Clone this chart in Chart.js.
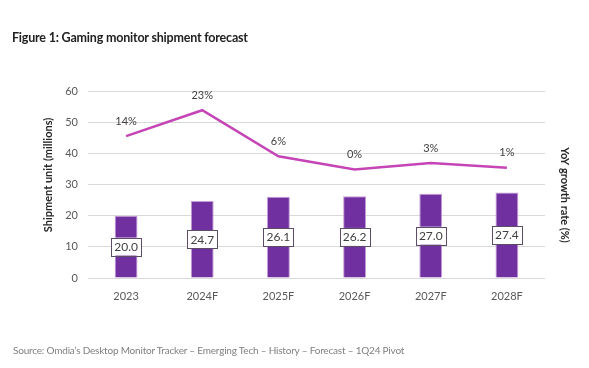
<!DOCTYPE html>
<html>
<head>
<meta charset="utf-8">
<script src="https://cdn.jsdelivr.net/npm/chart.js@4.4.1/dist/chart.umd.min.js"></script>
<style>
  html, body { margin: 0; padding: 0; background: #ffffff; }
  body { width: 589px; height: 368px; position: relative; overflow: hidden; font-family: Lato, "Open Sans", sans-serif; }
  #title { position: absolute; left: 12px; top: 30px; font-size: 12.5px; font-weight: bold; color: #222; letter-spacing: -0.2px; }
  #source { position: absolute; left: 13px; top: 344px; font-size: 10px; color: #808080; letter-spacing: -0.2px; }
  #wrap { position: absolute; left: 0; top: 0; width: 589px; height: 368px; }
</style>
</head>
<body>
<div id="wrap"><canvas id="c" width="589" height="368"></canvas></div>
<div id="title">Figure 1: Gaming monitor shipment forecast</div>
<div id="source">Source: Omdia’s Desktop Monitor Tracker – Emerging Tech – History – Forecast – 1Q24 Pivot</div>
<script>
const categories = ['2023', '2024F', '2025F', '2026F', '2027F', '2028F'];
const shipments = [20.0, 24.7, 26.1, 26.2, 27.0, 27.4];
const growth = [13.4, 23.5, 5.5, 0.4, 2.9, 1.0];
const growthLabels = ['14%', '23%', '6%', '0%', '3%', '1%'];
const leftTicks = [0, 10, 20, 30, 40, 50, 60];
const leftTitle = 'Shipment unit (millions)';
const rightTitle = 'YoY growth rate (%)';

const labelPlugin = {
  id: 'labels',
  afterDatasetsDraw(chart) {
    const ctx = chart.ctx;
    ctx.save();
    const barMeta = chart.getDatasetMeta(0);
    ctx.font = '12px Lato, "Open Sans", sans-serif';
    ctx.textAlign = 'center';
    ctx.textBaseline = 'middle';
    barMeta.data.forEach((bar, i) => {
      const txt = shipments[i].toFixed(1);
      const cy = (bar.y + bar.base) / 2;
      const w = 30, h = 18;
      ctx.fillStyle = '#ffffff';
      ctx.fillRect(bar.x - w / 2, cy - h / 2, w, h);
      ctx.strokeStyle = '#5b4d66';
      ctx.lineWidth = 1;
      ctx.strokeRect(Math.round(bar.x - w / 2) + 0.5, Math.round(cy - h / 2) + 0.5, w, h);
      ctx.fillStyle = '#404040';
      ctx.fillText(txt, bar.x, cy + 0.5);
    });
    const lineMeta = chart.getDatasetMeta(1);
    ctx.font = '11px Lato, "Open Sans", sans-serif';
    ctx.fillStyle = '#404040';
    lineMeta.data.forEach((pt, i) => {
      ctx.fillText(growthLabels[i], pt.x, pt.y - 15);
    });
    ctx.font = 'bold 11px Lato, "Open Sans", sans-serif';
    ctx.fillStyle = '#262626';
    ctx.save();
    ctx.translate(48, 175);
    ctx.rotate(-Math.PI / 2);
    ctx.fillText(leftTitle, 0, 0);
    ctx.restore();
    ctx.save();
    ctx.translate(565, 195);
    ctx.rotate(Math.PI / 2);
    ctx.fillText(rightTitle, 0, 0);
    ctx.restore();
    ctx.restore();
  }
};

new Chart(document.getElementById('c'), {
  data: {
    labels: categories,
    datasets: [
      {
        type: 'bar',
        label: leftTitle,
        data: shipments,
        backgroundColor: '#7030A0',
        borderColor: '#c89ad8',
        borderWidth: 1,
        barPercentage: 0.3,
        categoryPercentage: 1.0,
        yAxisID: 'y',
        order: 2
      },
      {
        type: 'line',
        label: rightTitle,
        data: growth,
        borderColor: '#C545B6',
        borderWidth: 2.5,
        pointRadius: 0,
        tension: 0,
        fill: false,
        yAxisID: 'y2',
        order: 1
      }
    ]
  },
  options: {
    responsive: false,
    animation: false,
    layout: { padding: { top: 91, left: 0, right: 0, bottom: 0 } },
    plugins: {
      legend: { display: false },
      tooltip: { enabled: false },
      title: { display: false }
    },
    scales: {
      x: {
        grid: { display: false, drawTicks: false },
        border: { display: false },
        ticks: { color: '#595959', font: { size: 11, family: 'Lato' }, padding: 12 },
        afterFit(s) { s.height = 90; }
      },
      y: {
        position: 'left',
        min: 0, max: 60,
        afterBuildTicks(s) { s.ticks = leftTicks.map(v => ({ value: v })); },
        grid: { color: '#d9d9d9', drawTicks: false },
        border: { display: false },
        ticks: { color: '#595959', font: { size: 11, family: 'Lato' }, padding: 10 },
        afterFit(s) { s.width = 88; }
      },
      y2: {
        position: 'right',
        min: -42, max: 31,
        grid: { display: false, drawTicks: false },
        border: { display: false },
        ticks: { display: false },
        afterFit(s) { s.width = 44; }
      }
    }
  },
  plugins: [labelPlugin]
});
</script>
</body>
</html>
